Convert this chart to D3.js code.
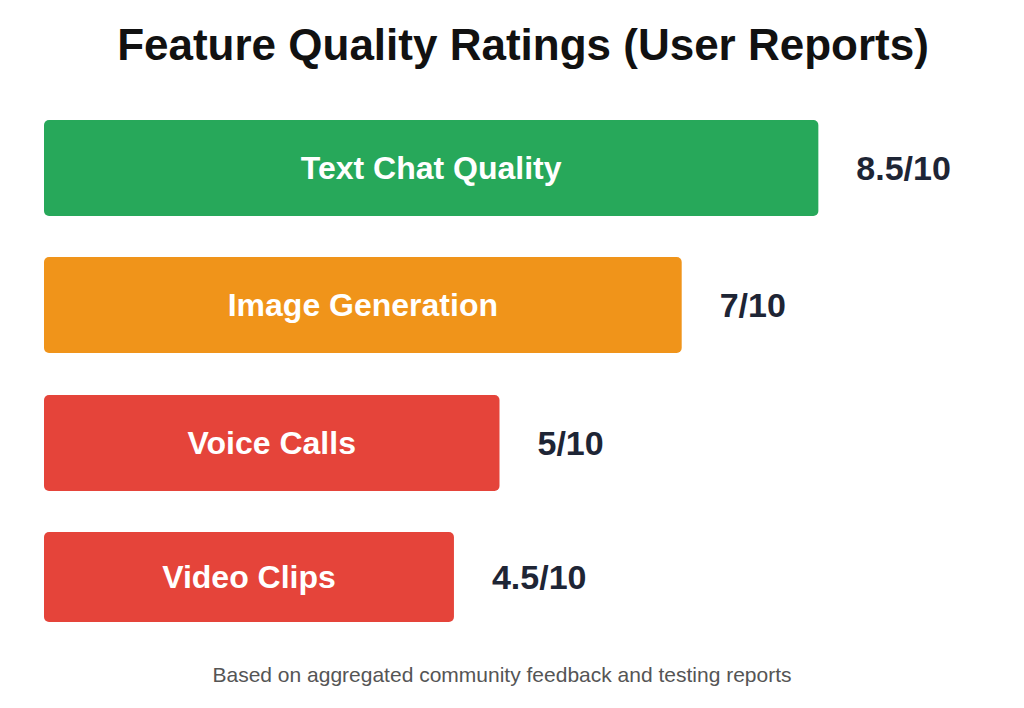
<!DOCTYPE html>
<html><head><meta charset="utf-8">
<script src="https://cdn.jsdelivr.net/npm/d3@7"></script>
<style>body{margin:0;background:#fff}</style>
</head><body>
<svg id="c" width="1024" height="708"></svg>
<script>
const categories = ["Text Chat Quality","Image Generation","Voice Calls","Video Clips"];
const ratings = [8.5,7,5,4.5];
const valueLabels = ["8.5/10","7/10","5/10","4.5/10"];
const colors = ["#27a85a","#f0941a","#e5443a","#e5443a"];
const tops = [120,257,395,532];
const heights = [96,96,96,90];

const svg = d3.select("#c");
const x = d3.scaleLinear().domain([0,10]).range([44,955]);
const font = "Liberation Sans, Arial, sans-serif";

svg.append("text").attr("x",523).attr("y",60).attr("text-anchor","middle")
  .attr("font-family",font).attr("font-weight","bold").attr("font-size",44)
  .attr("fill","#111").text("Feature Quality Ratings (User Reports)");

const g = svg.selectAll("g.bar").data(categories).enter().append("g");
g.append("rect").attr("x",x(0)).attr("y",(d,i)=>tops[i])
  .attr("width",(d,i)=>x(ratings[i])-x(0)).attr("height",(d,i)=>heights[i])
  .attr("rx",5).attr("fill",(d,i)=>colors[i]);
g.append("text").attr("x",(d,i)=>(x(0)+x(ratings[i]))/2).attr("y",(d,i)=>tops[i]+heights[i]/2+11)
  .attr("text-anchor","middle").attr("font-family",font).attr("font-weight","bold")
  .attr("font-size",32).attr("fill","#fff").text(d=>d);
g.append("text").attr("x",(d,i)=>x(ratings[i])+38).attr("y",(d,i)=>tops[i]+heights[i]/2+12)
  .attr("font-family",font).attr("font-weight","bold").attr("font-size",34)
  .attr("fill","#1e2535").text((d,i)=>valueLabels[i]);

svg.append("text").attr("x",502).attr("y",682).attr("text-anchor","middle")
  .attr("font-family",font).attr("font-size",21).attr("fill","#555")
  .text("Based on aggregated community feedback and testing reports");
</script>
</body></html>
